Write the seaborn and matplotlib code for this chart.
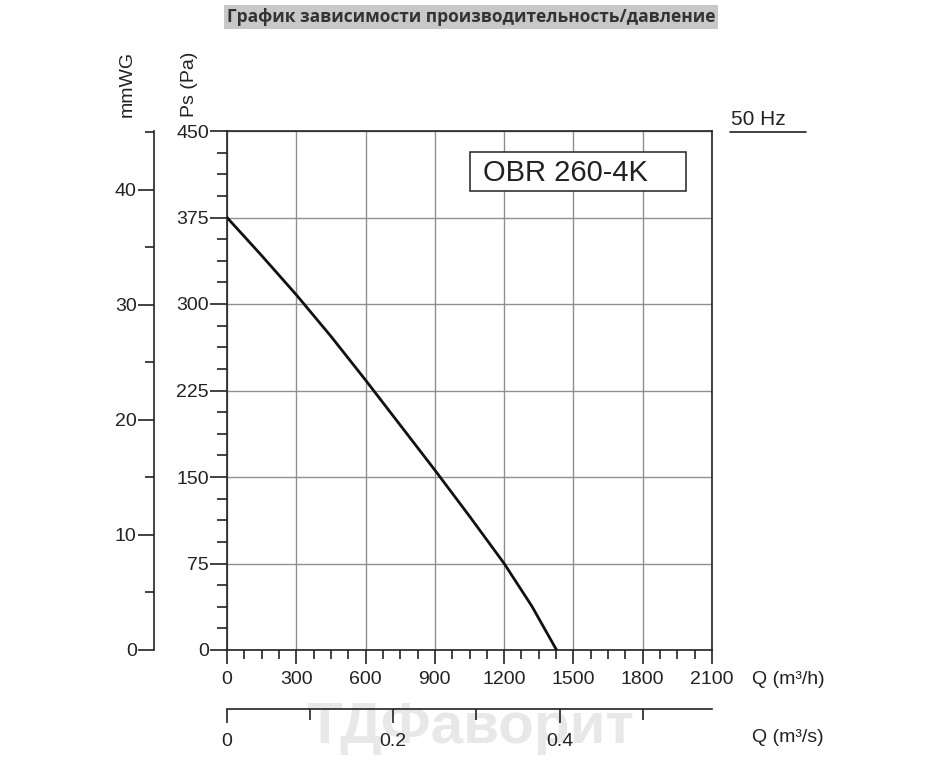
import matplotlib
matplotlib.use("Agg")
import matplotlib.pyplot as plt
import seaborn as sns
import pandas as pd
from matplotlib.ticker import MultipleLocator

# fan curve
Q_M3H = [0, 150, 300, 450, 600, 750, 900, 1050, 1200, 1320, 1427]
PS_PA = [375, 342, 308, 272, 234, 195, 156, 116, 75, 38, 0]

X_TICKS = [0, 300, 600, 900, 1200, 1500, 1800, 2100]
Y_TICKS = [0, 75, 150, 225, 300, 375, 450]
MMWG_TICKS = [0, 10, 20, 30, 40]
QS_TICKS = [0, 0.2, 0.4]
QS_LABELS = ["0", "0.2", "0.4"]

TITLE = "График зависимости производительность/давление"
MODEL = "OBR 260-4K"
WATERMARK = "ТДФаворит"

W, H = 939, 763
INK = "#222222"


def fx(px):
    return px / W


def fy(py):
    return 1 - py / H


sns.set_style("ticks")
plt.rcParams["font.family"] = ["Liberation Sans", "DejaVu Sans"]

df = pd.DataFrame({"q": Q_M3H, "ps": PS_PA})

fig = plt.figure(figsize=(W / 100, H / 100), dpi=100)

# watermark sits behind everything
fig.text(fx(470), fy(728), WATERMARK, ha="center", va="center", fontsize=42, fontweight="bold",
         color="#e8e8e8", zorder=-5)

left, right, top, bottom = 227, 712, 131, 650
ax = fig.add_axes([fx(left), fy(bottom), (right - left) / W, (bottom - top) / H])

sns.lineplot(data=df, x="q", y="ps", ax=ax, color="#111111", lw=2.0, zorder=3)
ax.set_xlim(0, 2100)
ax.set_ylim(0, 450)
ax.set_xticks(X_TICKS)
ax.set_yticks(Y_TICKS)
ax.xaxis.set_minor_locator(MultipleLocator(75))
ax.yaxis.set_minor_locator(MultipleLocator(18.75))
ax.grid(which="major", color="#8f8f8f", lw=1.0)
ax.set_xlabel("")
ax.set_ylabel("")
for s in ax.spines.values():
    s.set_color(INK)
    s.set_linewidth(1.2)
ax.tick_params(axis="x", which="major", length=10, width=1.2, pad=5, labelsize=14, colors=INK)
ax.tick_params(axis="x", which="minor", length=6.5, width=1.2, colors=INK)
ax.tick_params(axis="y", which="major", length=12, width=1.2, pad=1, labelsize=14, colors=INK)
ax.tick_params(axis="y", which="minor", length=7, width=1.2, colors=INK)

# model box
fig.add_artist(plt.Rectangle((fx(470), fy(191)), (686 - 470) / W, (191 - 152) / H,
                             transform=fig.transFigure, facecolor="white", edgecolor="#333333", lw=1.2))
fig.text(fx(483), fy(173), MODEL, fontsize=21, va="center", ha="left", color=INK)

# mmWG axis
ax_mm = fig.add_axes([fx(154), fy(bottom), 0.0005, (bottom - top) / H])
ax_mm.set_ylim(0, 45.1)
ax_mm.set_yticks(MMWG_TICKS)
ax_mm.yaxis.set_minor_locator(MultipleLocator(5))
ax_mm.set_xticks([])
ax_mm.patch.set_visible(False)
for k in ["top", "right", "bottom"]:
    ax_mm.spines[k].set_visible(False)
ax_mm.spines["left"].set_linewidth(1.2)
ax_mm.spines["left"].set_color(INK)
ax_mm.tick_params(axis="y", which="major", length=11.5, width=1.2, pad=1, labelsize=14, colors=INK)
ax_mm.tick_params(axis="y", which="minor", length=6.5, width=1.2, colors=INK)

# Q (m3/s) axis
ax_qs = fig.add_axes([fx(left), fy(709), (right - left) / W, 0.0005])
ax_qs.set_xlim(0, 2100 / 3600)
ax_qs.set_xticks(QS_TICKS)
ax_qs.set_xticklabels(QS_LABELS)
ax_qs.xaxis.set_minor_locator(MultipleLocator(0.1))
ax_qs.set_yticks([])
ax_qs.patch.set_visible(False)
for k in ["top", "right", "left"]:
    ax_qs.spines[k].set_visible(False)
ax_qs.spines["bottom"].set_linewidth(1.2)
ax_qs.spines["bottom"].set_color(INK)
ax_qs.tick_params(axis="x", which="major", length=10, width=1.2, pad=7, labelsize=14, colors=INK)
ax_qs.tick_params(axis="x", which="minor", length=8, width=1.2, colors=INK)

# axis names
fig.text(fx(127), fy(84), "mmWG", rotation=90, ha="center", va="center", fontsize=14, color=INK)
fig.text(fx(190), fy(84), "Ps (Pa)", rotation=90, ha="center", va="center", fontsize=14, color=INK)
fig.text(fx(752), fy(680), "Q (m³/h)", ha="left", va="center", fontsize=14, color=INK)
fig.text(fx(752), fy(738), "Q (m³/s)", ha="left", va="center", fontsize=14, color=INK)

# 50 Hz
fig.text(fx(731), fy(125), "50 Hz", ha="left", va="baseline", fontsize=15, color=INK)
fig.add_artist(plt.Line2D([fx(730), fx(806)], [fy(132), fy(132)], color=INK, lw=1.2))

# title
fig.text(fx(471), fy(17), TITLE, ha="center", va="center", fontsize=12.5, fontweight="bold",
         family=["Open Sans", "DejaVu Sans"], color="#333333",
         bbox=dict(boxstyle="square,pad=0.15", facecolor="#c8c8c8", edgecolor="none"))

fig.savefig("out.png", dpi=100)
